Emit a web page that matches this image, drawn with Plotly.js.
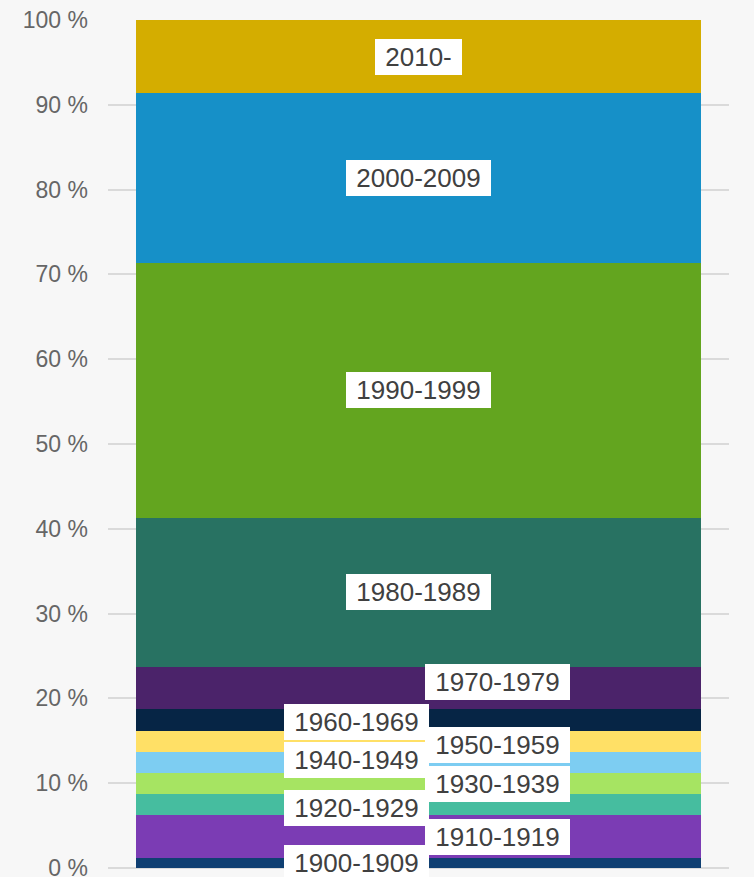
<!DOCTYPE html>
<html>
<head>
<meta charset="utf-8">
<script src="https://cdn.plot.ly/plotly-3.0.1.min.js"></script>
<style>
html,body{margin:0;padding:0;background:#f7f7f7;}
#chart{width:754px;height:877px;}
</style>
</head>
<body>
<div id="chart"></div>
<script>
// Data (percent share per construction period, bottom to top)
const periods = ["1900-1909","1910-1919","1920-1929","1930-1939","1940-1949","1950-1959","1960-1969","1970-1979","1980-1989","1990-1999","2000-2009","2010-"];
const shares  = [1.15, 5.08, 2.48, 2.49, 2.46, 2.48, 2.60, 4.96, 17.62, 29.99, 20.04, 8.65];
const colors  = ["#0f3f72","#7b3cb4","#46bd9f","#a6e462","#7dcdf2","#ffe066","#062545","#4b236a","#287262","#63a51f","#1690c8","#d4ad00"];
const category = ["Rakennukset"];

// Label placement styles (column offsets in px)
const labelXShift = [-62, 79, -62, 79, -62, 79, -62, 79, 0, 0, 0, 0];
const labelYShift = [0, 0, -3.5, 0, 3, -3.5, -1.5, 6.5, 0, 0, 0, 0];

const FONT = '"Liberation Sans", Arial, sans-serif';
const LABEL_SIZE = 26;

const traces = periods.map((p, i) => ({
  type: 'bar',
  name: p,
  x: category,
  y: [shares[i]],
  marker: {color: colors[i], line: {width: 0}},
  hoverinfo: 'skip',
  showlegend: false
}));

const ctx = document.createElement('canvas').getContext('2d');
ctx.font = LABEL_SIZE + 'px "Liberation Sans", Arial, sans-serif';

let cum = 0;
const annotations = periods.map((p, i) => {
  const mid = cum + shares[i] / 2;
  cum += shares[i];
  const w = Math.ceil(ctx.measureText(p).width) + 20;
  return {
    x: category[0], y: mid, xref: 'x', yref: 'y',
    text: p, showarrow: false,
    xshift: labelXShift[i], yshift: labelYShift[i],
    bgcolor: '#ffffff', borderwidth: 0, borderpad: 0,
    width: w, height: 36, align: 'center', valign: 'middle',
    font: {family: FONT, size: LABEL_SIZE, color: '#404040'}
  };
});

const layout = {
  width: 754, height: 877,
  margin: {l: 108, r: 25, t: 20, b: 9, pad: 0},
  paper_bgcolor: '#f7f7f7',
  plot_bgcolor: 'rgba(0,0,0,0)',
  barmode: 'stack',
  bargap: 0.09,
  showlegend: false,
  xaxis: {visible: false, type: 'category', fixedrange: true},
  yaxis: {
    range: [0, 100], dtick: 10, tick0: 0,
    ticksuffix: ' %',
    showgrid: true, gridcolor: '#dadada', gridwidth: 2,
    zeroline: true, zerolinecolor: '#dadada', zerolinewidth: 2,
    showline: false, ticks: '',
    ticklabelstandoff: 19,
    ticklabeloverflow: 'allow',
    tickfont: {family: FONT, size: 23, color: '#666666'},
    fixedrange: true
  },
  annotations: annotations,
  font: {family: FONT}
};

Plotly.newPlot('chart', traces, layout, {displayModeBar: false, staticPlot: true});
</script>
</body>
</html>
